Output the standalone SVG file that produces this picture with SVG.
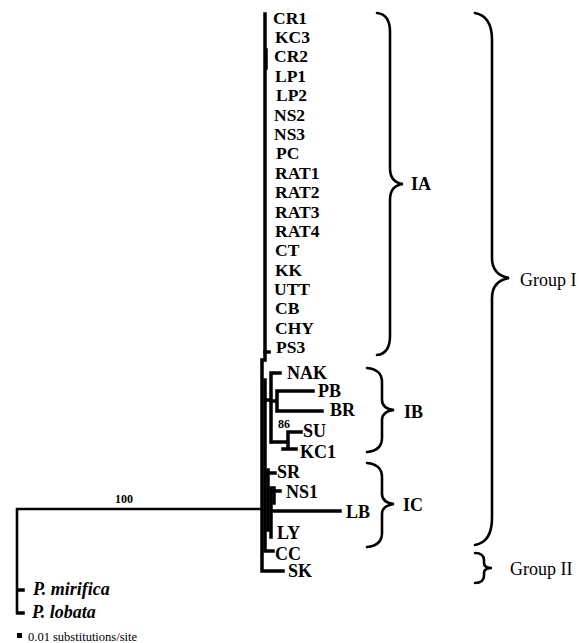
<svg xmlns="http://www.w3.org/2000/svg" width="579" height="643" viewBox="0 0 579 643">
<style>
.leaf{font-family:"Liberation Serif","Times New Roman",serif;font-weight:bold;font-size:18px;fill:#000}
.ia{font-size:17.5px}
.og{font-family:"Liberation Serif","Times New Roman",serif;font-weight:bold;font-style:italic;font-size:18px;fill:#000}
.grp{font-family:"Liberation Serif","Times New Roman",serif;font-size:18px;fill:#000}
.boot{font-family:"Liberation Serif","Times New Roman",serif;font-weight:bold;font-size:12px;fill:#000}
.scale{font-family:"Liberation Serif","Times New Roman",serif;font-size:12.5px;fill:#000}
.br{fill:none;stroke:#000;stroke-width:3.5;stroke-linecap:square}
.brace{fill:none;stroke:#000;stroke-width:2.6;stroke-linecap:round}
</style>
<rect width="579" height="643" fill="#fff"/>
<g id="connectors">
<path class="br" d="M265,14 V360"/>
<path class="br" d="M266,50 V68"/>
<path class="br" d="M265,352 H269"/>
<path class="br" d="M262,360 V571 H283"/>
<path class="br" d="M265,380 V551 H273"/>
<path class="br" d="M266,400 H271 M271,373 V442 M271,373 H280"/>
<path class="br" d="M271,401 H277 M277,391 V411 M277,391 H313 M277,411 H322"/>
<path class="br" d="M273,442 H288 M288,432 V449 M288,432 H301 M283,449 H296"/>
<path class="br" d="M266,473 H275"/>
<path class="br" d="M268,470 V530"/>
<path class="br" d="M268,500 H271 M271,488 V537 M271,491 H280 M271,511 H340"/>
<path class="br" d="M274,488 V503"/>
<path fill="none" stroke="#000" stroke-width="2.6" d="M261,509 H17 V614"/>
<path class="br" d="M18,590 H23 M18,613 H23"/>
</g>
<g id="labels">
<text class="leaf ia" x="273" y="24">CR1</text>
<text class="leaf ia" x="275" y="43">KC3</text>
<text class="leaf ia" x="274" y="62">CR2</text>
<text class="leaf ia" x="275" y="82">LP1</text>
<text class="leaf ia" x="276" y="101">LP2</text>
<text class="leaf ia" x="274" y="121">NS2</text>
<text class="leaf ia" x="274" y="140">NS3</text>
<text class="leaf ia" x="276" y="159">PC</text>
<text class="leaf ia" x="275" y="179">RAT1</text>
<text class="leaf ia" x="275" y="198">RAT2</text>
<text class="leaf ia" x="275" y="218">RAT3</text>
<text class="leaf ia" x="275" y="237">RAT4</text>
<text class="leaf ia" x="275" y="256">CT</text>
<text class="leaf ia" x="275" y="276">KK</text>
<text class="leaf ia" x="274" y="295">UTT</text>
<text class="leaf ia" x="275" y="314">CB</text>
<text class="leaf ia" x="275" y="334">CHY</text>
<text class="leaf ia" x="276" y="353">PS3</text>
<text class="leaf" x="287" y="379">NAK</text>
<text class="leaf" x="318" y="397">PB</text>
<text class="leaf" x="330" y="416">BR</text>
<text class="leaf" x="303" y="437">SU</text>
<text class="leaf" x="300" y="458">KC1</text>
<text class="leaf" x="277" y="478">SR</text>
<text class="leaf" x="286" y="498">NS1</text>
<text class="leaf" x="346" y="518">LB</text>
<text class="leaf" x="277" y="539">LY</text>
<text class="leaf" x="275" y="560">CC</text>
<text class="leaf" x="288" y="577">SK</text>
<text class="og" x="33" y="595">P. mirifica</text>
<text class="og" x="32" y="618">P. lobata</text>
<text class="boot" x="115" y="503">100</text>
<text class="boot" x="278" y="428">86</text>
</g>
<g id="scalebar">
<rect x="17" y="633" width="5" height="5" fill="#000"/>
<text class="scale" x="28" y="641">0.01 substitutions/site</text>
</g>
<g id="brace-IA">
<path class="brace" d="M377,13 C386,14 390,20 390,32 L390,168 C390,178 394,183 403,184 C394,185 390,190 390,200 L390,336 C390,348 386,354 377,355"/>
<text class="leaf" x="411" y="190">IA</text>
</g>
<g id="brace-IB">
<path class="brace" d="M367,368 C377,369 382,373 382,382 L382,400 C382,406 386,409 394,410 C386,411 382,414 382,420 L382,438 C382,447 377,451 367,452"/>
<text class="leaf" x="404" y="418">IB</text>
</g>
<g id="brace-IC">
<path class="brace" d="M367,463 C377,464 382,468 382,477 L382,494 C382,500 386,503 394,504 C386,505 382,508 382,514 L382,533 C382,542 377,546 367,547"/>
<text class="leaf" x="403" y="511">IC</text>
</g>
<g id="brace-GroupI">
<path class="brace" d="M475,13 C486,15 492,24 492,40 L492,258 C492,270 498,276 509,278 C498,280 492,286 492,298 L492,518 C492,534 486,543 475,545"/>
<text class="grp" x="520" y="286">Group I</text>
</g>
<g id="brace-GroupII">
<path class="brace" d="M475,553 C481,553 484,556 484,560 L484,563 C484,566 487,568 492,568 C487,568 484,570 484,573 L484,576 C484,580 481,583 475,583"/>
<text class="grp" x="510" y="575">Group II</text>
</g>
</svg>
